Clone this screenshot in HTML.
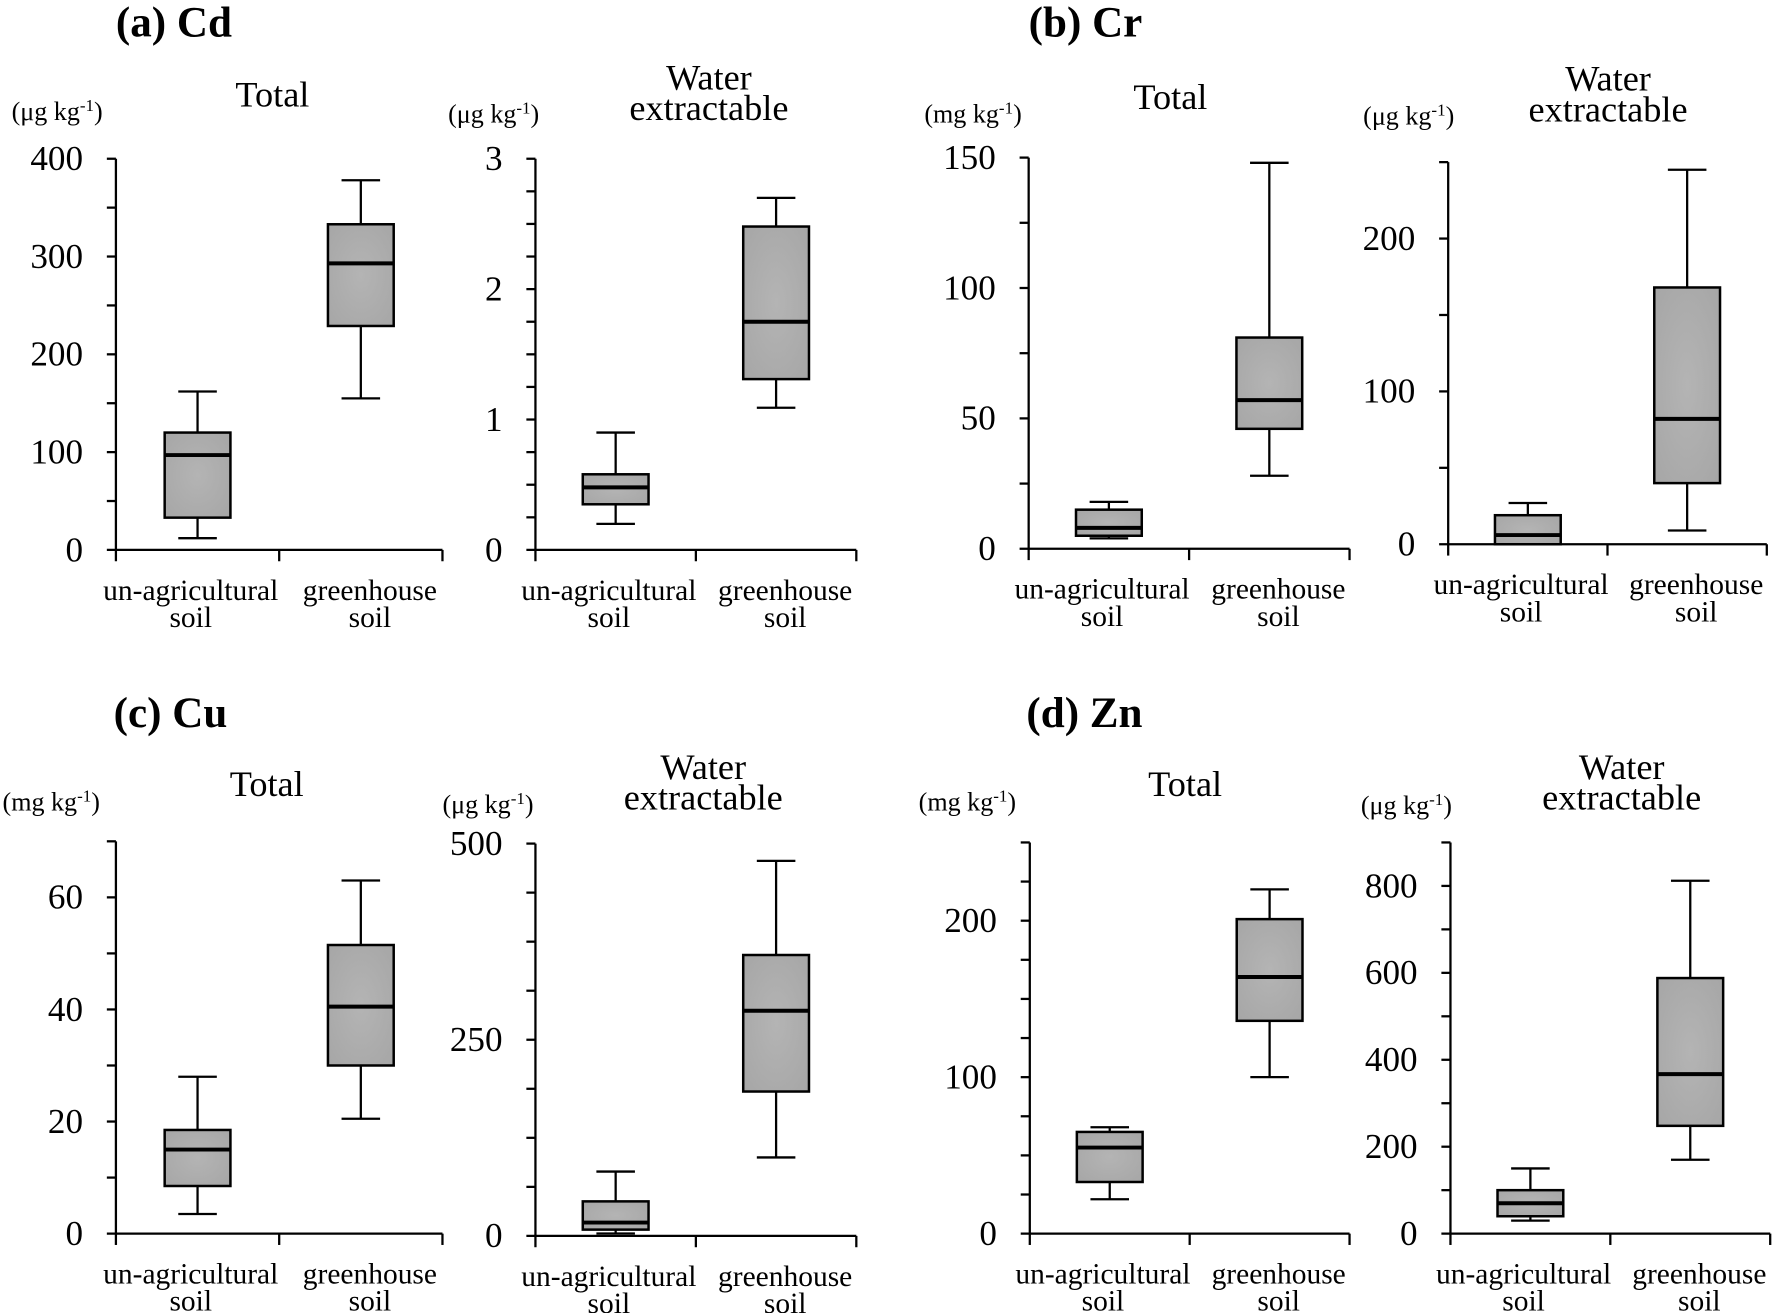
<!DOCTYPE html>
<html><head><meta charset="utf-8">
<style>
html,body{margin:0;padding:0;background:#fff;}
svg{display:block;font-family:"Liberation Serif",serif;}
</style></head>
<body>
<svg id="fig" width="1775" height="1313" viewBox="0 0 1565 1158" xmlns="http://www.w3.org/2000/svg">
<defs>
<radialGradient id="boxfill" cx="50%" cy="50%" r="70%">
<stop offset="0" stop-color="#b4b4b4"/><stop offset="1" stop-color="#a6a6a6"/>
</radialGradient>
</defs>
<g><text x="102" y="32" font-size="38" font-weight="bold">(a) Cd</text></g>
<g><text x="907" y="32" font-size="38" font-weight="bold">(b) Cr</text></g>
<g><text x="100" y="641" font-size="38" font-weight="bold">(c) Cu</text></g>
<g><text x="905" y="641" font-size="38" font-weight="bold">(d) Zn</text></g>
</svg>
<script>
// categories
const categories = ["un-agricultural|soil", "greenhouse|soil"];
// stats per category: [whiskerLow, q1, median, q3, whiskerHigh]
const cdTotalStats = [[12, 33, 97, 120, 162], [155, 229, 293, 333, 378]];
const cdWaterStats = [[0.2, 0.35, 0.48, 0.58, 0.9], [1.09, 1.31, 1.75, 2.48, 2.7]];
const crTotalStats = [[4, 5, 8, 15, 18], [28, 46, 57, 81, 148]];
const crWaterStats = [[0, 0, 6, 19, 27], [9, 40, 82, 168, 245]];
const cuTotalStats = [[3.5, 8.5, 15, 18.5, 28], [20.5, 30, 40.5, 51.5, 63]];
const cuWaterStats = [[3, 8, 17, 44, 82], [100, 184, 287, 358, 478]];
const znTotalStats = [[22, 33, 55, 65, 68], [100, 136, 164, 201, 220]];
const znWaterStats = [[30, 40, 70, 100, 150], [170, 248, 367, 588, 812]];
// tick labels
const cdTotalTicks = [0, 100, 200, 300, 400];
const cdWaterTicks = [0, 1, 2, 3];
const crTotalTicks = [0, 50, 100, 150];
const crWaterTicks = [0, 100, 200];
const cuTotalTicks = [0, 20, 40, 60];
const cuWaterTicks = [0, 250, 500];
const znTotalTicks = [0, 100, 200];
const znWaterTicks = [0, 200, 400, 600, 800];

const NS = "http://www.w3.org/2000/svg";
const svg = document.getElementById("fig");
function mk(tag, attrs, parent, text) {
  const e = document.createElementNS(NS, tag);
  for (const k in attrs) e.setAttribute(k, attrs[k]);
  if (text !== undefined) e.textContent = text;
  parent.appendChild(e);
  return e;
}
// layout (positions only)
const panels = [
  {id:"cd-total", stats:cdTotalStats, ticks:cdTotalTicks, minor:50, x0:102, x1:390, y0:485, yTop:140, vmax:400, unit:"(μg kg", ux:10, uy:106, title:["Total"], tx:240, ty:94},
  {id:"cd-water", stats:cdWaterStats, ticks:cdWaterTicks, minor:0.25, x0:472, x1:755, y0:485, yTop:140, vmax:3, unit:"(μg kg", ux:395, uy:108, title:["Water","extractable"], tx:625, ty:79},
  {id:"cr-total", stats:crTotalStats, ticks:crTotalTicks, minor:25, x0:907, x1:1190, y0:484, yTop:139, vmax:150, unit:"(mg kg", ux:815, uy:108, title:["Total"], tx:1032, ty:96},
  {id:"cr-water", stats:crWaterStats, ticks:crWaterTicks, minor:50, x0:1277, x1:1558, y0:480, yTop:143, vmax:250, unit:"(μg kg", ux:1202, uy:110, title:["Water","extractable"], tx:1418, ty:80},
  {id:"cu-total", stats:cuTotalStats, ticks:cuTotalTicks, minor:10, x0:102, x1:390, y0:1088, yTop:742, vmax:70, unit:"(mg kg", ux:2, uy:715, title:["Total"], tx:235, ty:702},
  {id:"cu-water", stats:cuWaterStats, ticks:cuWaterTicks, minor:62.5, x0:472, x1:755, y0:1090, yTop:744, vmax:500, unit:"(μg kg", ux:390, uy:717, title:["Water","extractable"], tx:620, ty:687},
  {id:"zn-total", stats:znTotalStats, ticks:znTotalTicks, minor:25, x0:908, x1:1190, y0:1088, yTop:743, vmax:250, unit:"(mg kg", ux:810, uy:715, title:["Total"], tx:1045, ty:702},
  {id:"zn-water", stats:znWaterStats, ticks:znWaterTicks, minor:100, x0:1279, x1:1561, y0:1088, yTop:743, vmax:900, unit:"(μg kg", ux:1200, uy:718, title:["Water","extractable"], tx:1430, ty:687}
];
panels.forEach(p => {
  const g = mk("g", {}, svg);
  
  
  const y = v => p.y0 - (v / p.vmax) * (p.y0 - p.yTop);
  const half = (p.x1 - p.x0) / 2;
  const cx = i => p.x0 + half * (i + 0.5);
  const ln = {stroke:"#000","stroke-width":2};
  const ya = mk("line", Object.assign({x1:p.x0,y1:p.yTop,x2:p.x0,y2:p.y0}, ln), g);
  
  
  const xa = mk("line", Object.assign({x1:p.x0-8,y1:p.y0,x2:p.x1,y2:p.y0}, ln), g);
  
  
  for (let i = 0; i <= 2; i++) {
    const xx = p.x0 + half * i;
    mk("line", Object.assign({x1:xx,y1:p.y0,x2:xx,y2:p.y0+10}, ln), g);
  }
  for (let v = p.minor; v <= p.vmax + 1e-9; v += p.minor) {
    mk("line", Object.assign({x1:p.x0-8,y1:y(v),x2:p.x0,y2:y(v)}, ln), g);
  }
  p.ticks.forEach(t => {
    const tl = mk("text", {x:p.x0-29, y:y(t)+10, "font-size":31, "text-anchor":"end"}, g, String(t));
    
    
  });
  const u = mk("text", {x:p.ux, y:p.uy, "font-size":23}, g, p.unit);
  mk("tspan", {dy:-8, "font-size":15}, u, "-1");
  mk("tspan", {dy:8}, u, ")");
  
  
  p.title.forEach((t, i) => {
    const tt = mk("text", {x:p.tx, y:p.ty + i*27, "font-size":32, "text-anchor":"middle"}, g, t);
    
    
  });
  categories.forEach((c, i) => {
    const parts = c.split("|");
    parts.forEach((s, j) => {
      const cl = mk("text", {x:cx(i)+(i===0?-6:8), y:p.y0+44+j*24, "font-size":26, "text-anchor":"middle"}, g, s);
      
      
    });
  });
  p.stats.forEach((s, i) => {
    const b = mk("g", {}, g);
    
    
    const c = cx(i), w = 58, cw = 34;
    mk("line", Object.assign({x1:c,y1:y(s[0]),x2:c,y2:y(s[4])}, ln), b);
    mk("line", Object.assign({x1:c-cw/2,y1:y(s[0]),x2:c+cw/2,y2:y(s[0])}, ln), b);
    mk("line", Object.assign({x1:c-cw/2,y1:y(s[4]),x2:c+cw/2,y2:y(s[4])}, ln), b);
    mk("rect", {x:c-w/2, y:y(s[3]), width:w, height:Math.max(0.5, y(s[1])-y(s[3])), fill:"url(#boxfill)", stroke:"#000", "stroke-width":2.2}, b);
    mk("line", {x1:c-w/2,y1:y(s[2]),x2:c+w/2,y2:y(s[2]),stroke:"#000","stroke-width":3.5}, b);
  });
});
</script>
</body></html>
